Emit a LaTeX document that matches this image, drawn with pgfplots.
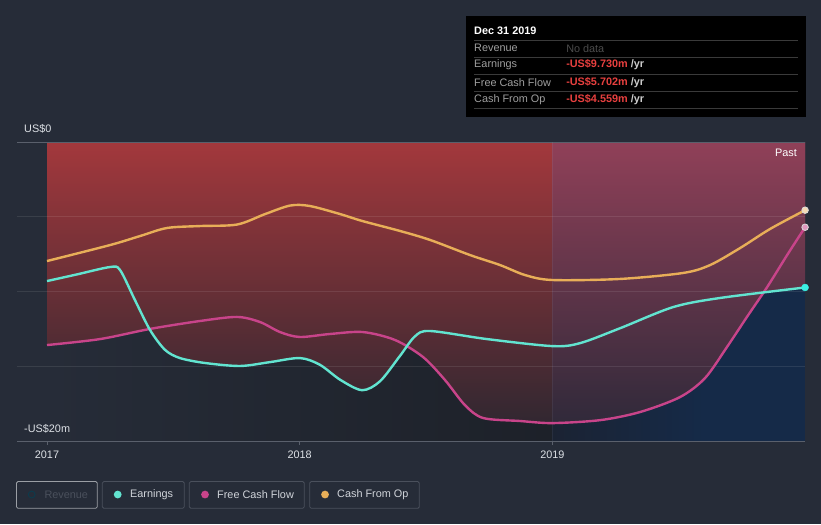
\documentclass[border=0pt]{standalone}
\usepackage{pgfplots}
\pgfplotsset{compat=1.18}
\usepackage{pgfplotstable}
\usepackage{fontspec}
\setmainfont{Liberation Sans}
\definecolor{bg}{HTML}{262C38}
\definecolor{redtop}{HTML}{A3383C}
\definecolor{redbot}{HTML}{2A2630}
\definecolor{purtop}{HTML}{904058}
\definecolor{purbot}{HTML}{2A2838}
\definecolor{lowL}{HTML}{262C38}
\definecolor{lowR}{HTML}{1D2129}
\definecolor{blueL}{HTML}{1B2333}
\definecolor{blueR}{HTML}{152A48}
\definecolor{earn}{HTML}{62E4D0}
\definecolor{fcf}{HTML}{C8448A}
\definecolor{cfo}{HTML}{E8AE58}
\definecolor{axgray}{HTML}{5A606C}
\definecolor{txt}{HTML}{DDE1E6}
\definecolor{legtxt}{HTML}{D0D4DA}
\definecolor{legborder}{HTML}{4A505C}
\definecolor{valred}{HTML}{E8403F}
\definecolor{sep}{HTML}{3A3A3A}
\pgfplotstableread{
x y
2017.000 -13.58
2017.210 -13.18
2017.408 -12.50
2017.606 -11.97
2017.752 -11.70
2017.843 -12.04
2017.922 -12.71
2018.000 -13.04
2018.120 -12.84
2018.250 -12.71
2018.377 -13.24
2018.488 -14.38
2018.575 -15.92
2018.654 -17.60
2018.726 -18.46
2018.872 -18.66
2019.000 -18.80
2019.190 -18.60
2019.347 -18.06
2019.505 -17.06
2019.604 -15.79
2019.691 -13.71
2019.770 -11.70
2019.850 -9.70
2019.929 -7.56
2020.000 -5.70
}\fcfdata
\pgfplotstableread{
x y
2017.000 -9.30
2017.120 -8.85
2017.250 -8.36
2017.289 -8.56
2017.348 -10.57
2017.408 -12.58
2017.467 -13.90
2017.526 -14.45
2017.625 -14.78
2017.764 -14.98
2017.883 -14.72
2018.001 -14.45
2018.080 -14.90
2018.160 -15.90
2018.247 -16.60
2018.318 -16.00
2018.397 -14.30
2018.456 -13.00
2018.516 -12.64
2018.741 -13.18
2019.000 -13.65
2019.110 -13.45
2019.270 -12.44
2019.478 -11.04
2019.664 -10.43
2020.000 -9.73
}\earndata
\pgfplotstableread{
x y
2017.000 -7.96
2017.250 -6.89
2017.368 -6.29
2017.475 -5.75
2017.606 -5.62
2017.752 -5.52
2017.863 -4.82
2017.962 -4.25
2018.040 -4.28
2018.160 -4.82
2018.247 -5.28
2018.397 -5.95
2018.516 -6.55
2018.674 -7.56
2018.793 -8.23
2018.892 -8.90
2019.000 -9.23
2019.267 -9.16
2019.517 -8.76
2019.624 -8.23
2019.743 -7.09
2019.861 -5.82
2020.000 -4.56
}\cfodata
\begin{document}
\begin{tikzpicture}[x=1bp,y=1bp,font=\fontsize{10.9}{12.5}\selectfont]
\begin{axis}[
  at={(47bp,-441bp)}, anchor=south west, scale only axis,
  width=758bp, height=299bp,
  xmin=2017, xmax=2020, ymin=-20, ymax=0,
  clip=false, set layers,
  axis line style={draw=none},
  xtick={2017,2018,2019}, xticklabels={2017,2018,2019},
  ytick=\empty,
  tick align=outside, xtick pos=bottom,
  major tick length=4bp,
  tick style={color=axgray, line width=0.8bp},
  xticklabel style={text=txt, font=\fontsize{10.9}{12.5}\selectfont, yshift=-2bp},
]
\begin{pgfonlayer}{axis background}
\fill[bg] (axis cs:2016.814,9.498) rectangle (axis cs:2020.063,-25.55);
\shade[left color=lowL, right color=lowR] (axis cs:2017,-20) rectangle (axis cs:2019,0);
\shade[left color=blueL, right color=blueR] (axis cs:2019,-20) rectangle (axis cs:2019.6,0);
\fill[blueR] (axis cs:2019.599,-20) rectangle (axis cs:2020,0);
\end{pgfonlayer}
% area above the lowest line (union of the areas above each line)
\addplot[draw=none, top color=redtop, bottom color=redbot, smooth, tension=0.5, forget plot, restrict x to domain=2017:2019] table {\earndata} -- (axis cs:2019,0) -- (axis cs:2017,0) -- cycle (axis cs:2017,-20);
\addplot[draw=none, top color=redtop, bottom color=redbot, smooth, tension=0.5, forget plot, restrict x to domain=2017:2019] table {\fcfdata} -- (axis cs:2019,0) -- (axis cs:2017,0) -- cycle (axis cs:2017,-20);
\addplot[draw=none, top color=purtop, bottom color=purbot, smooth, tension=0.5, forget plot, restrict x to domain=2019:2020] table {\earndata} -- (axis cs:2020,0) -- (axis cs:2019,0) -- cycle (axis cs:2019,-20);
\addplot[draw=none, top color=purtop, bottom color=purbot, smooth, tension=0.5, forget plot, restrict x to domain=2019:2020] table {\fcfdata} -- (axis cs:2020,0) -- (axis cs:2019,0) -- cycle (axis cs:2019,-20);
% grid
\draw[white, opacity=0.09, line width=0.8bp] (axis cs:2016.881,-5) -- (axis cs:2020,-5);
\draw[white, opacity=0.09, line width=0.8bp] (axis cs:2016.881,-10) -- (axis cs:2020,-10);
\draw[white, opacity=0.09, line width=0.8bp] (axis cs:2016.881,-15) -- (axis cs:2020,-15);
\draw[axgray, line width=0.9bp] (axis cs:2016.881,0) -- (axis cs:2020,0);
\draw[axgray, line width=0.9bp] (axis cs:2016.881,-20) -- (axis cs:2020,-20);
\draw[white, opacity=0.06, line width=0.8bp] (axis cs:2019,-20) -- (axis cs:2019,0);
% lines
\addplot[cfo, line width=2.4bp, smooth, tension=0.5] table {\cfodata};
\addplot[fcf, line width=2.4bp, smooth, tension=0.5] table {\fcfdata};
\addplot[earn, line width=2.4bp, smooth, tension=0.5] table {\earndata};
% end markers
\addplot[only marks, mark=*, mark size=3.3, mark options={fill=cfo!45!white, draw=white!85!black, line width=0.8bp}] coordinates {(2020,-4.56)};
\addplot[only marks, mark=*, mark size=3.3, mark options={fill=fcf!55!white, draw=white!85!black, line width=0.8bp}] coordinates {(2020,-5.70)};
\addplot[only marks, mark=*, mark size=3.5, mark options={fill=earn!60!cyan, draw=earn!60!cyan}] coordinates {(2020,-9.73)};
\end{axis}
% tooltip
\fill[black] (466,-16) rectangle (806,-116.5);
\foreach \yy in {40.5,57.5,74.5,91.5,108.5} \draw[color=sep, line width=0.7bp] (474,-\yy) -- (798,-\yy);
\node[anchor=west, inner sep=0, font=\fontsize{10.9}{12.5}\selectfont\bfseries, white] at (474,-31) {Dec 31 2019};
\node[anchor=west, inner sep=0, text=gray!75] at (474,-48.3) {Revenue};
\node[anchor=west, inner sep=0, text=gray!75] at (474,-65) {Earnings};
\node[anchor=west, inner sep=0, text=gray!75] at (474,-82.3) {Free Cash Flow};
\node[anchor=west, inner sep=0, text=gray!75] at (474,-99.3) {Cash From Op};
\node[anchor=west, inner sep=0, text=gray!60!black] at (566,-48.3) {No data};
\node[anchor=west, inner sep=0, text=gray!40, font=\fontsize{10.9}{12.5}\selectfont\bfseries] at (566,-65) {\textcolor{valred}{-US\$9.730m} /yr};
\node[anchor=west, inner sep=0, text=gray!40, font=\fontsize{10.9}{12.5}\selectfont\bfseries] at (566,-82.3) {\textcolor{valred}{-US\$5.702m} /yr};
\node[anchor=west, inner sep=0, text=gray!40, font=\fontsize{10.9}{12.5}\selectfont\bfseries] at (566,-99.3) {\textcolor{valred}{-US\$4.559m} /yr};
% y labels
\node[anchor=west, inner sep=0, text=txt] at (24,-129) {US\$0};
\node[anchor=west, inner sep=0, text=txt] at (24,-429) {-US\$20m};
\node[anchor=east, inner sep=0, text=white] at (797,-153) {Past};
% legend
\draw[color=legborder!55, line width=0.8bp, rounded corners=1.5bp] (16.5,-481.5) rectangle (97.3,-508.3);
\draw[color=legborder, line width=0.8bp, rounded corners=1.5bp] (102.3,-481.5) rectangle (184.3,-508.3);
\draw[color=legborder, line width=0.8bp, rounded corners=1.5bp] (189.3,-481.5) rectangle (304.3,-508.3);
\draw[color=legborder, line width=0.8bp, rounded corners=1.5bp] (309.7,-481.5) rectangle (419.3,-508.3);
\draw[color=blueR!80!cyan!70!black, line width=0.9bp] (31.7,-494.5) circle (3.4);
\fill[earn] (117.7,-494.5) circle (3.9);
\fill[fcf] (205,-494.5) circle (3.9);
\fill[cfo] (325,-494.5) circle (3.9);
\node[anchor=west, inner sep=0, text=legborder] at (44.3,-494.5) {Revenue};
\node[anchor=west, inner sep=0, text=legtxt] at (130,-494.5) {Earnings};
\node[anchor=west, inner sep=0, text=legtxt] at (217,-494.5) {Free Cash Flow};
\node[anchor=west, inner sep=0, text=legtxt] at (337,-494.5) {Cash From Op};
\end{tikzpicture}
\end{document}
